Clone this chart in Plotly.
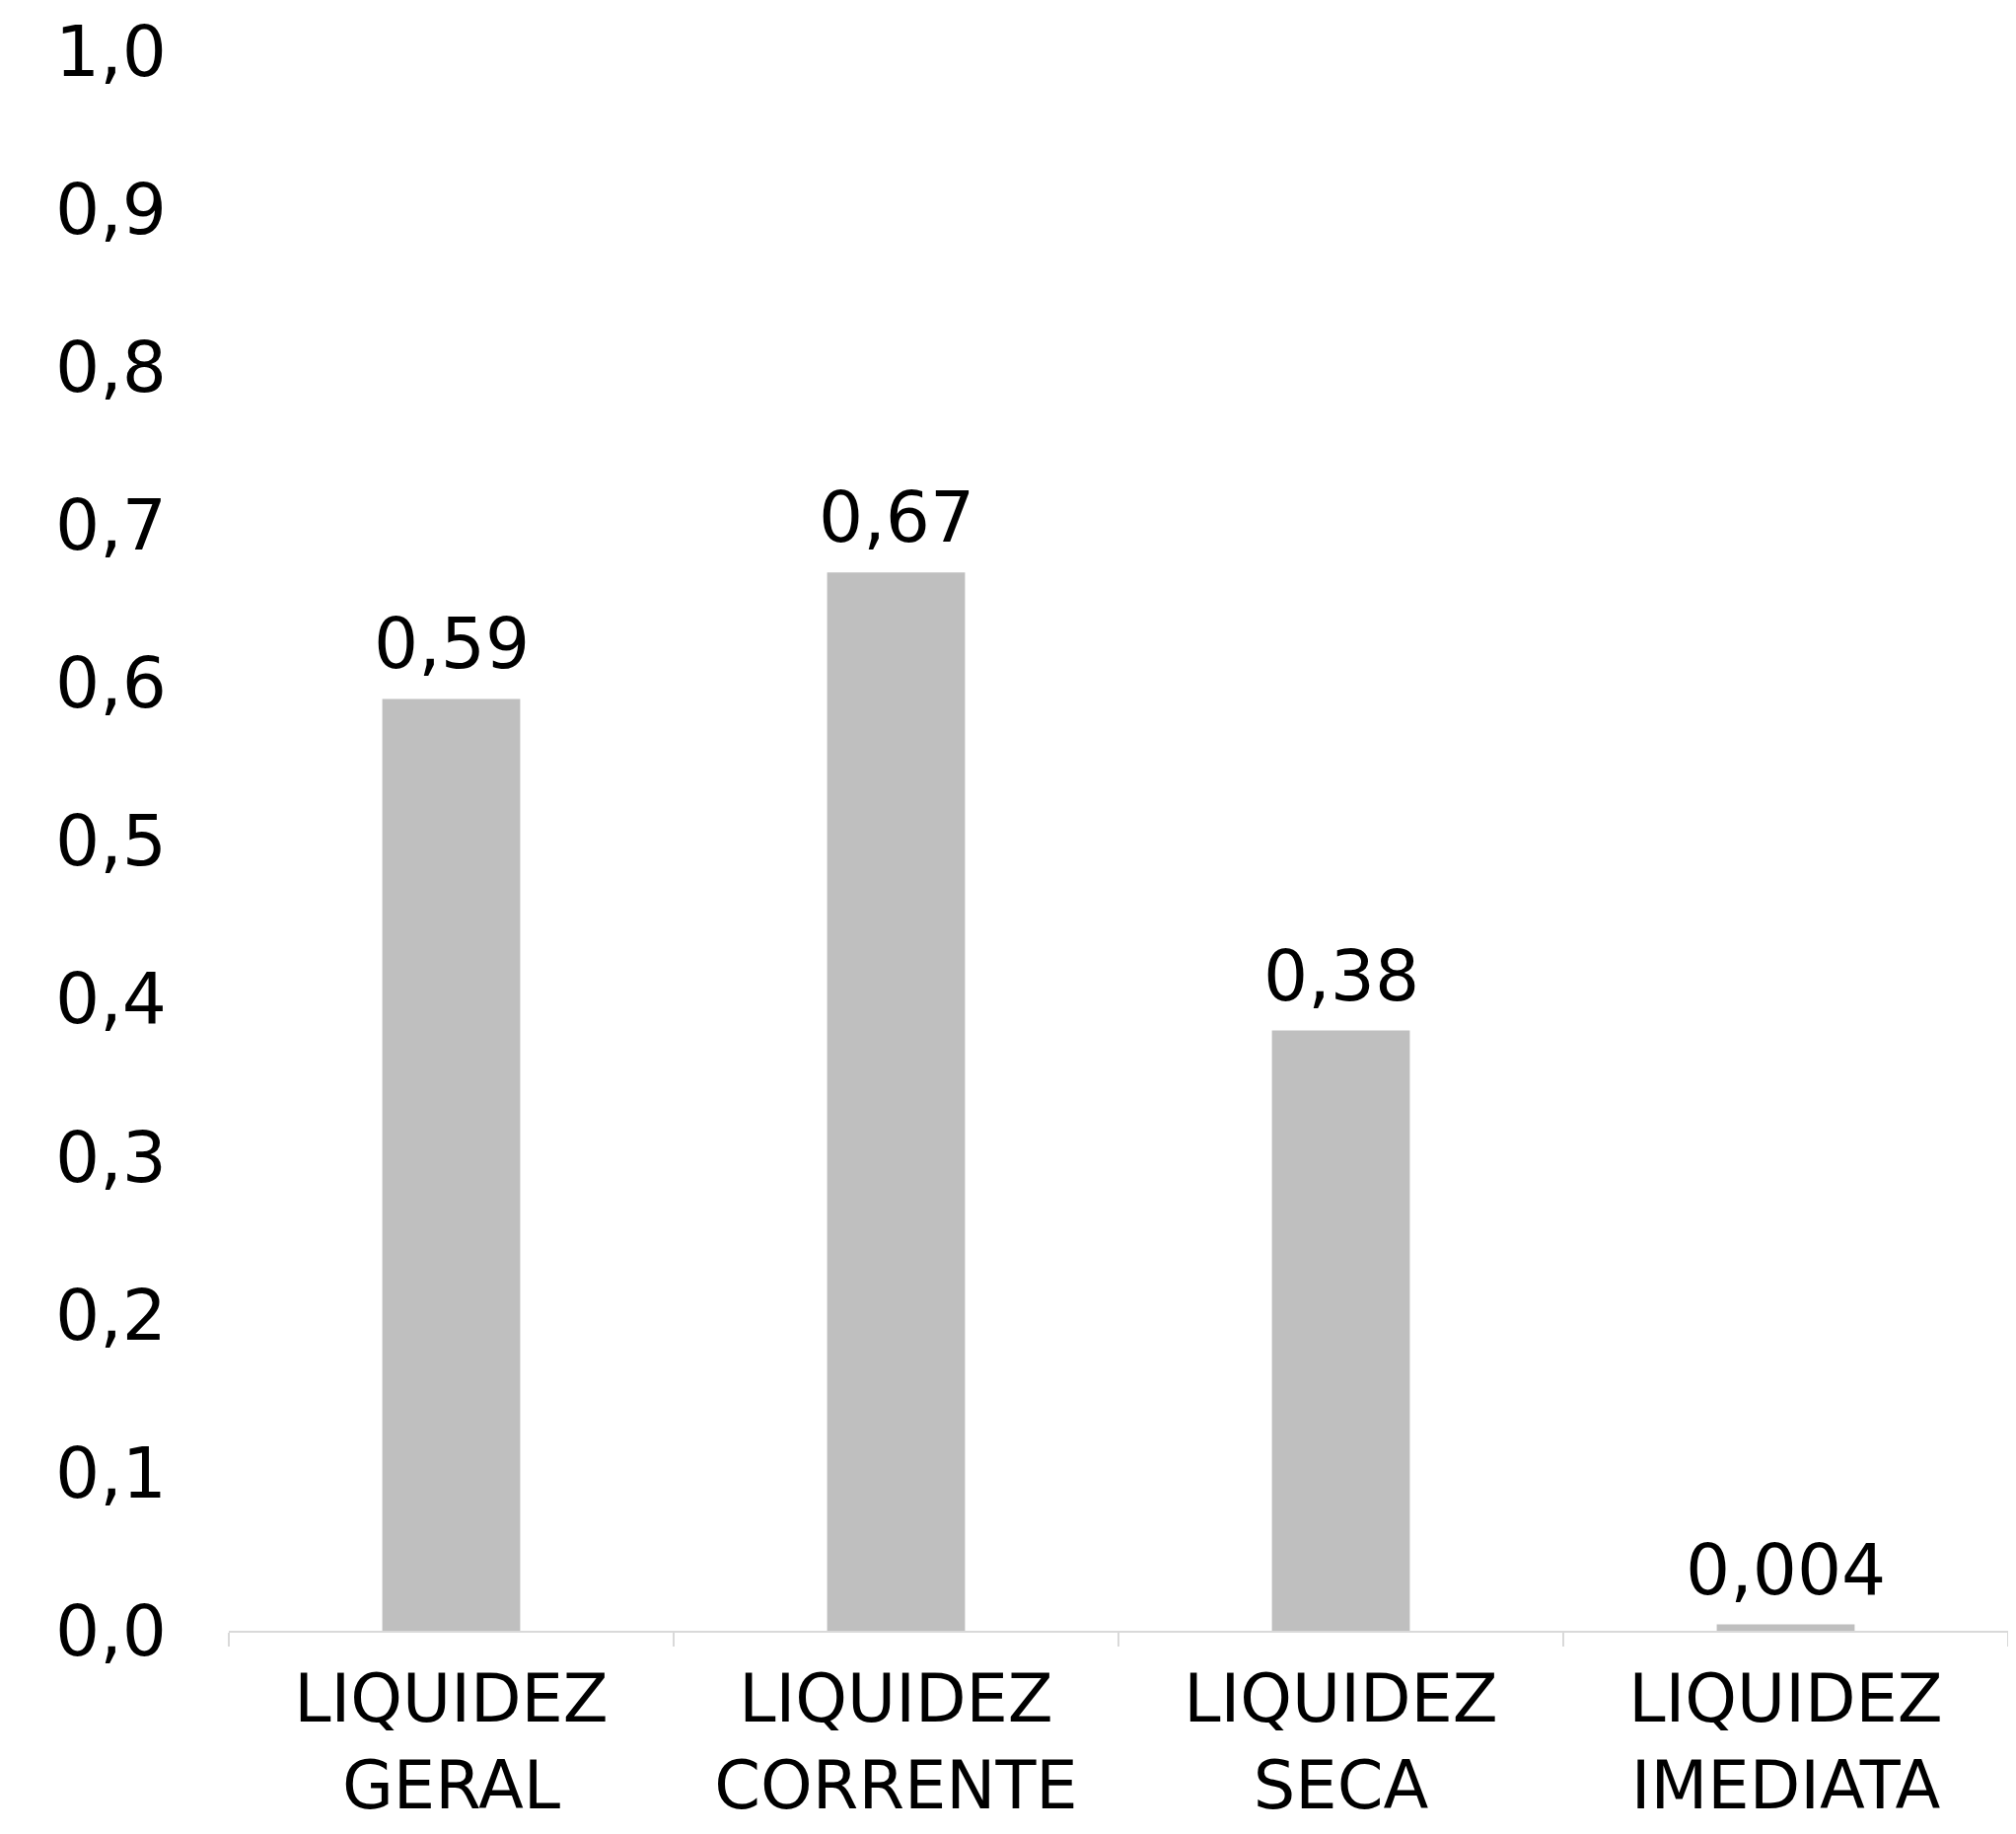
import plotly.graph_objects as go

categories = ["LIQUIDEZ<br>GERAL", "LIQUIDEZ<br>CORRENTE", "LIQUIDEZ<br>SECA", "LIQUIDEZ<br>IMEDIATA"]
values = [0.59, 0.67, 0.38, 0.004]
tick_vals = [0.0, 0.1, 0.2, 0.3, 0.4, 0.5, 0.6, 0.7, 0.8, 0.9, 1.0]

FONT = "DejaVu Sans"
FS = 71

fig = go.Figure()
fig.add_trace(go.Bar(
    x=categories, y=values,
    marker=dict(color="#bfbfbf", line=dict(width=0)),
    width=0.31,
))

for c, v in zip(categories, values):
    fig.add_annotation(
        x=c, y=v, text=f"{v:g}".replace(".", ","),
        showarrow=False, yanchor="bottom", yshift=12,
        font=dict(family=FONT, size=FS, color="#000000"),
    )

fig.update_layout(
    width=2044, height=1859,
    margin=dict(l=224, r=16, t=44, b=214),
    paper_bgcolor="white", plot_bgcolor="white",
    separators=",.",
    showlegend=False,
    font=dict(family=FONT, size=FS, color="#000000"),
    bargap=0.69,
)
fig.update_xaxes(
    showline=True, linecolor="#d9d9d9", linewidth=2,
    ticks="outside", tickson="boundaries", ticklen=14, tickcolor="#d9d9d9", tickwidth=2,
    ticklabelstandoff=10, automargin=False,
    showgrid=False, tickfont=dict(family=FONT, size=67, color="#000000"),
)
fig.update_yaxes(
    range=[0, 1.0], tickvals=tick_vals, tickformat=".1f",
    showgrid=False, zeroline=False, showline=False,
    ticklabelstandoff=62, automargin=False,
    tickfont=dict(family=FONT, size=FS, color="#000000"),
)

fig.write_html("out.html")
